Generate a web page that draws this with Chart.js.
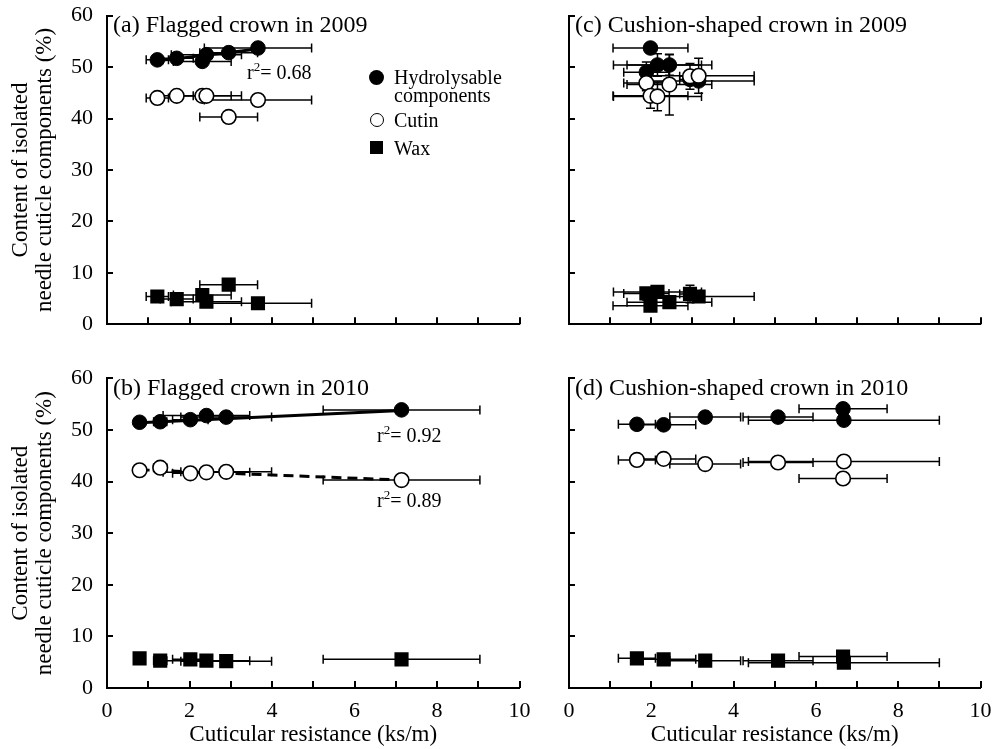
<!DOCTYPE html>
<html><head><meta charset="utf-8">
<script src="https://cdn.jsdelivr.net/npm/chart.js@4.4.1/dist/chart.umd.min.js"></script>
<style>
html,body{margin:0;padding:0;background:#fff;}
#wrap{position:relative;width:997px;height:749px;overflow:hidden;font-family:"Liberation Serif","Times New Roman",serif;color:#000;}
canvas{position:absolute;}
.t{position:absolute;white-space:nowrap;font-size:24px;line-height:24px;}
.r2{position:absolute;white-space:nowrap;font-size:20px;line-height:20px;}
.r2 sup{font-size:13px;line-height:0;vertical-align:0;position:relative;top:-8px;}
.lg{position:absolute;white-space:nowrap;font-size:20px;line-height:18px;}
.mk{position:absolute;box-sizing:border-box;}
</style></head><body><div id="wrap">
<canvas id="ca" width="545" height="345" style="left:0;top:0"></canvas>
<canvas id="cb" width="545" height="384" style="left:0;top:365px"></canvas>
<canvas id="cc" width="452" height="345" style="left:545px;top:0"></canvas>
<canvas id="cd" width="452" height="384" style="left:545px;top:365px"></canvas>

<div class="t" style="left:113px;top:12px">(a) Flagged crown in 2009</div>
<div class="t" style="left:113px;top:375px">(b) Flagged crown in 2010</div>
<div class="t" style="left:575px;top:12px">(c) Cushion-shaped crown in 2009</div>
<div class="t" style="left:575px;top:375px">(d) Cushion-shaped crown in 2010</div>

<div class="r2" style="left:247px;top:62px">r<sup>2</sup>= 0.68</div>
<div class="r2" style="left:377px;top:425px">r<sup>2</sup>= 0.92</div>
<div class="r2" style="left:377px;top:490px">r<sup>2</sup>= 0.89</div>

<div class="mk" style="left:369px;top:70px;width:15px;height:15px;border-radius:50%;background:#000"></div>
<div class="lg" style="left:394px;top:68px">Hydrolysable<br>components</div>
<div class="mk" style="left:370px;top:113px;width:14px;height:14px;border-radius:50%;border:1.6px solid #000;background:#fff"></div>
<div class="mk" style="left:370px;top:141px;width:13px;height:13px;background:#000"></div>
<div class="lg" style="left:394px;top:111px">Cutin</div>
<div class="lg" style="left:394px;top:139px">Wax</div>
</div>
<script>
// ---------- data ----------
const xTickLabels = [0, 2, 4, 6, 8, 10];
const yTickLabels = [0, 10, 20, 30, 40, 50, 60];
const seriesNames = ['Hydrolysable components', 'Cutin', 'Wax'];

// (a) Flagged crown in 2009
const resA = [1.22, 1.69, 2.31, 2.41, 2.95, 3.66];
const resErrA = [0.27, 0.40, 0.70, 0.85, 0.70, 1.30];
const hydroA = [51.4, 51.7, 51.1, 52.4, 52.8, 53.7];
const cutinA = [44.0, 44.4, 44.4, 44.4, 40.3, 43.6];
const waxA = [5.4, 4.9, 5.7, 4.4, 7.7, 4.1];
const fitHydroAX = [1.22, 3.66];
const fitHydroAY = [51.2, 53.5];

// (b) Flagged crown in 2010
const resB = [0.79, 1.29, 2.02, 2.41, 2.89, 7.14];
const resErrB = [0.05, 0.16, 0.43, 1.05, 1.10, 1.90];
const hydroB = [51.5, 51.6, 52.0, 52.8, 52.5, 53.9];
const cutinB = [42.2, 42.7, 41.6, 41.8, 41.9, 40.3];
const waxB = [5.75, 5.3, 5.55, 5.3, 5.2, 5.55];
const fitHydroBX = [0.79, 7.14];
const fitHydroBY = [51.4, 53.8];
const fitCutinBX = [0.79, 7.14];
const fitCutinBY = [42.3, 40.3];

// (c) Cushion-shaped crown in 2009
const resC = [1.88, 1.98, 2.15, 2.44, 2.94, 3.15];
const resErrC = [0.55, 0.91, 1.07, 1.03, 0.25, 1.35];
const hydroC = [49.0, 53.7, 50.4, 50.4, 47.6, 47.3];
const cutinC = [46.9, 44.4, 44.3, 46.6, 48.2, 48.3];
const waxC = [6.0, 3.6, 6.3, 4.3, 5.9, 5.4];
const hydroErrC = [2.0, 0, 2.2, 2.0, 0, 0];
const cutinErrC = [1.5, 2.4, 2.8, 5.9, 2.5, 3.4];
const waxErrC = [0.8, 0, 0.8, 0, 1.7, 0.8];

// (d) Cushion-shaped crown in 2010
const resD = [1.65, 2.30, 3.31, 5.08, 6.66, 6.68];
const resErrD = [0.45, 0.78, 0.86, 0.85, 1.07, 2.32];
const hydroD = [51.1, 51.0, 52.5, 52.5, 54.1, 51.9];
const cutinD = [44.2, 44.4, 43.4, 43.7, 40.6, 43.9];
const waxD = [5.75, 5.55, 5.3, 5.3, 6.1, 4.9];

// ---------- chart building ----------
const FONT = '"Liberation Serif", "Times New Roman", serif';
const X_TITLE = 'Cuticular resistance (ks/m)';
const Y_TITLE = ['Content of isolated', 'needle cuticle components (%)'];

const pts = (xs, ys) => xs.map((x, i) => ({x: x, y: ys[i]}));

const errTickPlugin = {
  id: 'errTick',
  beforeDatasetsDraw(chart) {
    const {ctx} = chart;
    const xs = chart.scales.x, ys = chart.scales.y;
    ctx.save();
    ctx.strokeStyle = '#000';
    ctx.lineWidth = 1.5;
    chart.data.datasets.forEach(ds => {
      if (!ds.xErr) return;
      ds.data.forEach((p, i) => {
        const px = xs.getPixelForValue(p.x), py = ys.getPixelForValue(p.y);
        const e = ds.xErr[i] || 0;
        ctx.beginPath();
        if (e > 0) {
          const x1 = xs.getPixelForValue(p.x - e), x2 = xs.getPixelForValue(p.x + e);
          ctx.moveTo(x1, py); ctx.lineTo(x2, py);
          ctx.moveTo(x1, py - 4.5); ctx.lineTo(x1, py + 4.5);
          ctx.moveTo(x2, py - 4.5); ctx.lineTo(x2, py + 4.5);
        }
        const ey = ds.yErr ? (ds.yErr[i] || 0) : 0;
        if (ey > 0) {
          const y1 = ys.getPixelForValue(p.y - ey), y2 = ys.getPixelForValue(p.y + ey);
          ctx.moveTo(px, y1); ctx.lineTo(px, y2);
          ctx.moveTo(px - 4.5, y1); ctx.lineTo(px + 4.5, y1);
          ctx.moveTo(px - 4.5, y2); ctx.lineTo(px + 4.5, y2);
        }
        ctx.stroke();
      });
    });
    ctx.restore();
  },
  afterDraw(chart) {
    const {ctx, chartArea} = chart;
    const xs = chart.scales.x, ys = chart.scales.y;
    ctx.save();
    ctx.strokeStyle = '#000';
    ctx.lineWidth = 2;
    ctx.beginPath();
    for (let v = 10; v <= 60; v += 10) {
      const py = Math.round(ys.getPixelForValue(v));
      ctx.moveTo(chartArea.left, py); ctx.lineTo(chartArea.left + 6, py);
    }
    for (let v = 1; v <= 10; v++) {
      const px = Math.round(xs.getPixelForValue(v));
      ctx.moveTo(px, chartArea.bottom); ctx.lineTo(px, chartArea.bottom - 7);
    }
    ctx.stroke();
    ctx.restore();
  }
};

function makeChart(id, cfg) {
  const showXLabels = cfg.bottom, showYLabels = cfg.left;
  const datasets = [
    {label: seriesNames[1], data: pts(cfg.res, cfg.cutin), xErr: cfg.resErr, yErr: cfg.cutinErr,
     pointStyle: 'circle', pointRadius: 7.3, backgroundColor: '#fff', borderColor: '#000', borderWidth: 1.6},
    {label: seriesNames[0], data: pts(cfg.res, cfg.hydro), xErr: cfg.resErr, yErr: cfg.hydroErr,
     pointStyle: 'circle', pointRadius: 7.3, backgroundColor: '#000', borderColor: '#000', borderWidth: 1},
    {label: seriesNames[2], data: pts(cfg.res, cfg.wax), xErr: cfg.resErr, yErr: cfg.waxErr,
     pointStyle: 'rect', pointRadius: 10, backgroundColor: '#000', borderColor: '#000', borderWidth: 0}
  ];
  (cfg.fits || []).forEach(f => {
    datasets.push({type: 'line', label: 'fit', data: pts(f.x, f.y), showLine: true, pointRadius: 0,
      borderColor: '#000', borderWidth: 3, borderDash: f.dash || [], fill: false});
  });
  return new Chart(document.getElementById(id), {
    type: 'scatter',
    data: {datasets},
    plugins: [errTickPlugin],
    options: {
      responsive: false,
      animation: false,
      events: [],
      layout: {padding: {top: cfg.padTop, right: cfg.padRight, left: 0, bottom: 0}},
      plugins: {legend: {display: false}, tooltip: {enabled: false}, title: {display: false}},
      scales: {
        x: {
          type: 'linear', min: 0, max: 10,
          ticks: {display: showXLabels, stepSize: 2, padding: 10, color: '#000',
                  font: {family: FONT, size: 22}, callback: (v) => xTickLabels.includes(v) ? String(v) : ''},
          grid: {display: true, drawOnChartArea: false, drawTicks: false},
          border: {display: true, color: '#000', width: 2},
          title: {display: showXLabels, text: X_TITLE, color: '#000', font: {family: FONT, size: 23, lineHeight: 1.2},
                  padding: {top: 0, bottom: 0}},
          afterFit(s) { s.height = cfg.xH; s.paddingLeft = 0; s.paddingRight = 0; }
        },
        y: {
          type: 'linear', min: 0, max: 60,
          ticks: {display: showYLabels, stepSize: 10, padding: 14, color: '#000',
                  font: {family: FONT, size: 22}, callback: (v) => yTickLabels.includes(v) ? String(v) : ''},
          grid: {display: true, drawOnChartArea: false, drawTicks: false},
          border: {display: true, color: '#000', width: 2},
          title: {display: showYLabels, text: Y_TITLE, color: '#000', font: {family: FONT, size: 23, lineHeight: 1.05},
                  padding: {top: 9, bottom: 0}},
          afterFit(s) { s.width = cfg.yW; s.paddingTop = 0; s.paddingBottom = 0; }
        }
      }
    }
  });
}

makeChart('ca', {left: true, bottom: false, res: resA, resErr: resErrA, hydro: hydroA, cutin: cutinA, wax: waxA,
  fits: [{x: fitHydroAX, y: fitHydroAY}], padTop: 15.6, padRight: 25.5, xH: 20.7, yW: 107});
makeChart('cb', {left: true, bottom: true, res: resB, resErr: resErrB, hydro: hydroB, cutin: cutinB, wax: waxB,
  fits: [{x: fitHydroBX, y: fitHydroBY}, {x: fitCutinBX, y: fitCutinBY, dash: [10, 6]}],
  padTop: 13.4, padRight: 25.5, xH: 61, yW: 107});
makeChart('cc', {left: false, bottom: false, res: resC, resErr: resErrC, hydro: hydroC, cutin: cutinC, wax: waxC,
  hydroErr: hydroErrC, cutinErr: cutinErrC, waxErr: waxErrC, padTop: 15.6, padRight: 16.5, xH: 20.7, yW: 24});
makeChart('cd', {left: false, bottom: true, res: resD, resErr: resErrD, hydro: hydroD, cutin: cutinD, wax: waxD,
  padTop: 13.4, padRight: 16.5, xH: 61, yW: 24});
</script>
</body></html>
